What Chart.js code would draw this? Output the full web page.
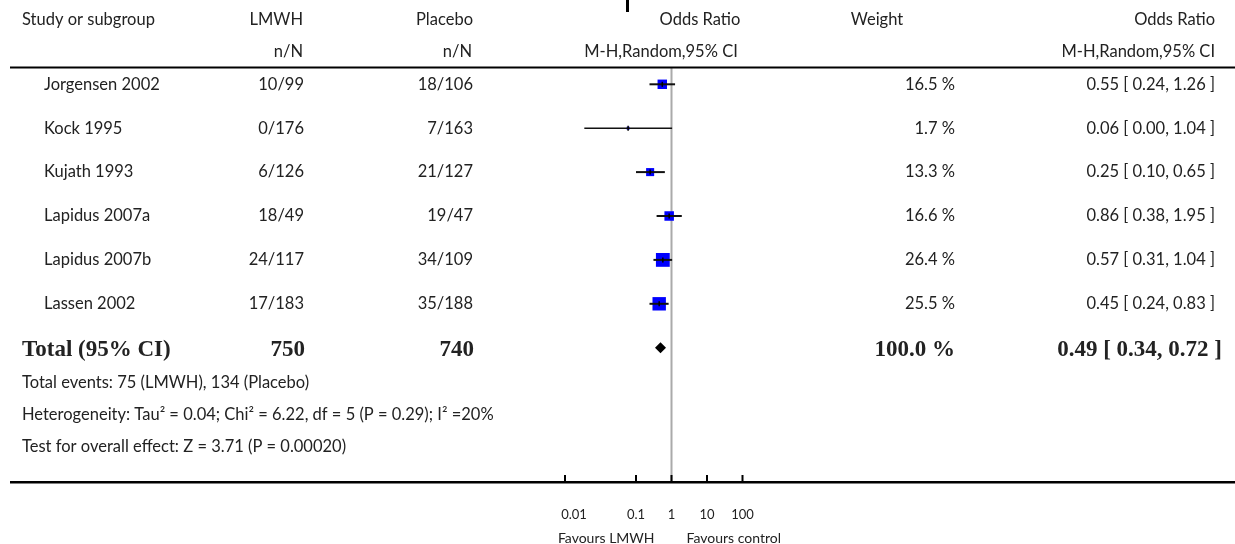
<!DOCTYPE html>
<html><head><meta charset="utf-8">
<script src="https://cdn.jsdelivr.net/npm/chart.js@4"></script>
<style>html,body{margin:0;padding:0;background:#fff}#wrap{width:1235px;height:544px;position:relative}</style>
</head><body><div id="wrap"><canvas id="c"></canvas></div>
<script>
// ---- data ----
const studies = ['Jorgensen 2002','Kock 1995','Kujath 1993','Lapidus 2007a','Lapidus 2007b','Lassen 2002'];
const lmwhEvents = [10,0,6,18,24,17];
const lmwhTotal = [99,176,126,49,117,183];
const placeboEvents = [18,7,21,19,34,35];
const placeboTotal = [106,163,127,47,109,188];
const weights = [16.5,1.7,13.3,16.6,26.4,25.5];
const oddsRatio = [0.55,0.06,0.25,0.86,0.57,0.45];
const ciLow = [0.24,0.0035,0.10,0.38,0.31,0.24];
const ciHigh = [1.26,1.04,0.65,1.95,1.04,0.83];
const totalLmwh = 750, totalPlacebo = 740;
const totalEventsLmwh = 75, totalEventsPlacebo = 134;
const totalWeight = 100.0;
const totalOR = 0.49, totalLow = 0.34, totalHigh = 0.72;
const hetTau2 = '0.04', hetChi2 = '6.22', hetDf = 5, hetP = '0.29', hetI2 = '20%';
const effectZ = '3.71', effectP = '0.00020';
const tickValues = [0.001,0.1,1,10,100];
const tickLabels = ['0.01','0.1','1','10','100'];
const favourLeft = 'Favours LMWH', favourRight = 'Favours control';

// ---- styling ----
const SANS = 'Lato, "Open Sans", sans-serif';
const SERIF = '"Liberation Serif", "DejaVu Serif", serif';
const TXT = '#222';
const BODY = '16.5px ' + SANS;
const totalRow = studies.length;
const sideFor = w => 2.2 + 0.44 * w;

const datasets = [];
// estimate tick marks
datasets.push({type:'scatter', data: oddsRatio.map((v,i)=>({x:v,y:i})), pointStyle:'line', rotation:90,
  pointRadius:2.5, borderColor:'#000', borderWidth:1.5, backgroundColor:'#000'});
// CI lines
studies.forEach((s,i)=>{
  datasets.push({type:'line', data:[{x:ciLow[i],y:i},{x:ciHigh[i],y:i}], borderColor:'#111',
    borderWidth: i===1?1.5:2, pointRadius:0, fill:false});
});
// squares
datasets.push({type:'scatter', data: oddsRatio.map((v,i)=>({x:v,y:i})), pointStyle:'rect',
  pointRadius: weights.map(w => sideFor(w) / (2*Math.SQRT1_2)), backgroundColor:'#0000ff', borderWidth:0});
// total diamond
datasets.push({type:'scatter', data:[{x:totalOR,y:totalRow}], pointStyle:'rectRot',
  pointRadius:5.5, backgroundColor:'#000', borderWidth:0});

const PXDEC = 35.5, ONE_X = 671.5, LEFT = 10, RIGHT = 1235, TOP = 68, BOTTOM = 482;
const ROW0 = 84.3, ROWH = 43.9;

function txt(ctx, s, x, y, align, font){
  ctx.font = font || BODY;
  ctx.textAlign = align || 'left';
  ctx.fillText(s, x, y);
}

const forest = {
  id:'forest',
  beforeDatasetsDraw(chart){
    const {ctx, scales:{x}, chartArea:a} = chart;
    ctx.save();
    ctx.strokeStyle = '#aaaaaa'; ctx.lineWidth = 2;
    const px = x.getPixelForValue(1);
    ctx.beginPath(); ctx.moveTo(px, a.top); ctx.lineTo(px, a.bottom); ctx.stroke();
    ctx.restore();
  },
  afterDraw(chart){
    const {ctx, scales:{x,y}, chartArea:a} = chart;
    ctx.save();
    ctx.fillStyle = TXT; ctx.textBaseline = 'middle';
    // artifact bar at top
    ctx.fillStyle = '#000'; ctx.fillRect(626, 0, 3, 12); ctx.fillStyle = TXT;
    // header
    txt(ctx,'Study or subgroup',22,20);
    txt(ctx,'LMWH',303,20,'right'); txt(ctx,'n/N',303,52,'right');
    txt(ctx,'Placebo',473,20,'right'); txt(ctx,'n/N',472,52,'right');
    txt(ctx,'Odds Ratio',700,20,'center'); txt(ctx,'M-H,Random,95% CI',661,52,'center');
    txt(ctx,'Weight',877,20,'center');
    txt(ctx,'Odds Ratio',1215,20,'right'); txt(ctx,'M-H,Random,95% CI',1215,52,'right');
    // rules
    ctx.fillStyle = '#000';
    ctx.fillRect(a.left, a.top - 1.5, a.right - a.left, 2);
    ctx.fillRect(a.left, a.bottom - 1, a.right - a.left, 2.5);
    tickValues.forEach(v=>{ const px = x.getPixelForValue(v); ctx.fillRect(px-1, a.bottom-7, 2, 7); });
    ctx.fillStyle = TXT;
    // study rows
    studies.forEach((s,i)=>{
      const py = y.getPixelForValue(i);
      txt(ctx, s, 44, py);
      txt(ctx, lmwhEvents[i]+'/'+lmwhTotal[i], 304, py, 'right');
      txt(ctx, placeboEvents[i]+'/'+placeboTotal[i], 473, py, 'right');
      txt(ctx, weights[i].toFixed(1)+' %', 955, py, 'right');
      txt(ctx, oddsRatio[i].toFixed(2)+' [ '+ciLow[i].toFixed(2)+', '+ciHigh[i].toFixed(2)+' ]', 1215, py, 'right');
    });
    // total row
    const ty = y.getPixelForValue(totalRow) + 2;
    const bf = 'bold 23px ' + SERIF;
    txt(ctx,'Total (95% CI)',22,ty,'left',bf);
    txt(ctx,String(totalLmwh),305,ty,'right',bf);
    txt(ctx,String(totalPlacebo),474,ty,'right',bf);
    txt(ctx,totalWeight.toFixed(1)+' %',955,ty,'right',bf);
    txt(ctx,totalOR.toFixed(2)+' [ '+totalLow.toFixed(2)+', '+totalHigh.toFixed(2)+' ]',1222,ty,'right',bf);
    // footer
    txt(ctx,'Total events: '+totalEventsLmwh+' (LMWH), '+totalEventsPlacebo+' (Placebo)',22,ty+33);
    txt(ctx,'Heterogeneity: Tau\u00b2 = '+hetTau2+'; Chi\u00b2 = '+hetChi2+', df = '+hetDf+' (P = '+hetP+'); I\u00b2 ='+hetI2,22,ty+65);
    txt(ctx,'Test for overall effect: Z = '+effectZ+' (P = '+effectP+')',22,ty+97);
    // axis labels
    const sf = '13px ' + SANS;
    tickValues.forEach((v,i)=>{ txt(ctx, tickLabels[i], x.getPixelForValue(v) + (i===0?9:0), 515, 'center', sf); });
    const p1 = x.getPixelForValue(1);
    const ff = '14px ' + SANS;
    txt(ctx, favourLeft, p1-17, 538, 'right', ff);
    txt(ctx, favourRight, p1+15, 538, 'left', ff);
    ctx.restore();
  }
};

const logMin = Math.pow(10, -(ONE_X-LEFT)/PXDEC);
const logMax = Math.pow(10, (RIGHT-ONE_X)/PXDEC);
const yMin = -(ROW0-TOP)/ROWH, yMax = (BOTTOM-ROW0)/ROWH;

new Chart(document.getElementById('c'), {
  type:'scatter',
  data:{datasets},
  options:{
    responsive:true, maintainAspectRatio:false, animation:false,
    layout:{autoPadding:false, padding:{left:LEFT, right:0, top:TOP, bottom:544-BOTTOM}},
    plugins:{legend:{display:false}, tooltip:{enabled:false}},
    scales:{
      x:{type:'logarithmic', display:false, min:logMin, max:logMax,
         afterBuildTicks: s => { s.ticks = tickValues.map(v=>({value:v})); }},
      y:{type:'linear', display:false, reverse:true, min:yMin, max:yMax}
    }
  },
  plugins:[forest]
});
</script>
</body></html>
